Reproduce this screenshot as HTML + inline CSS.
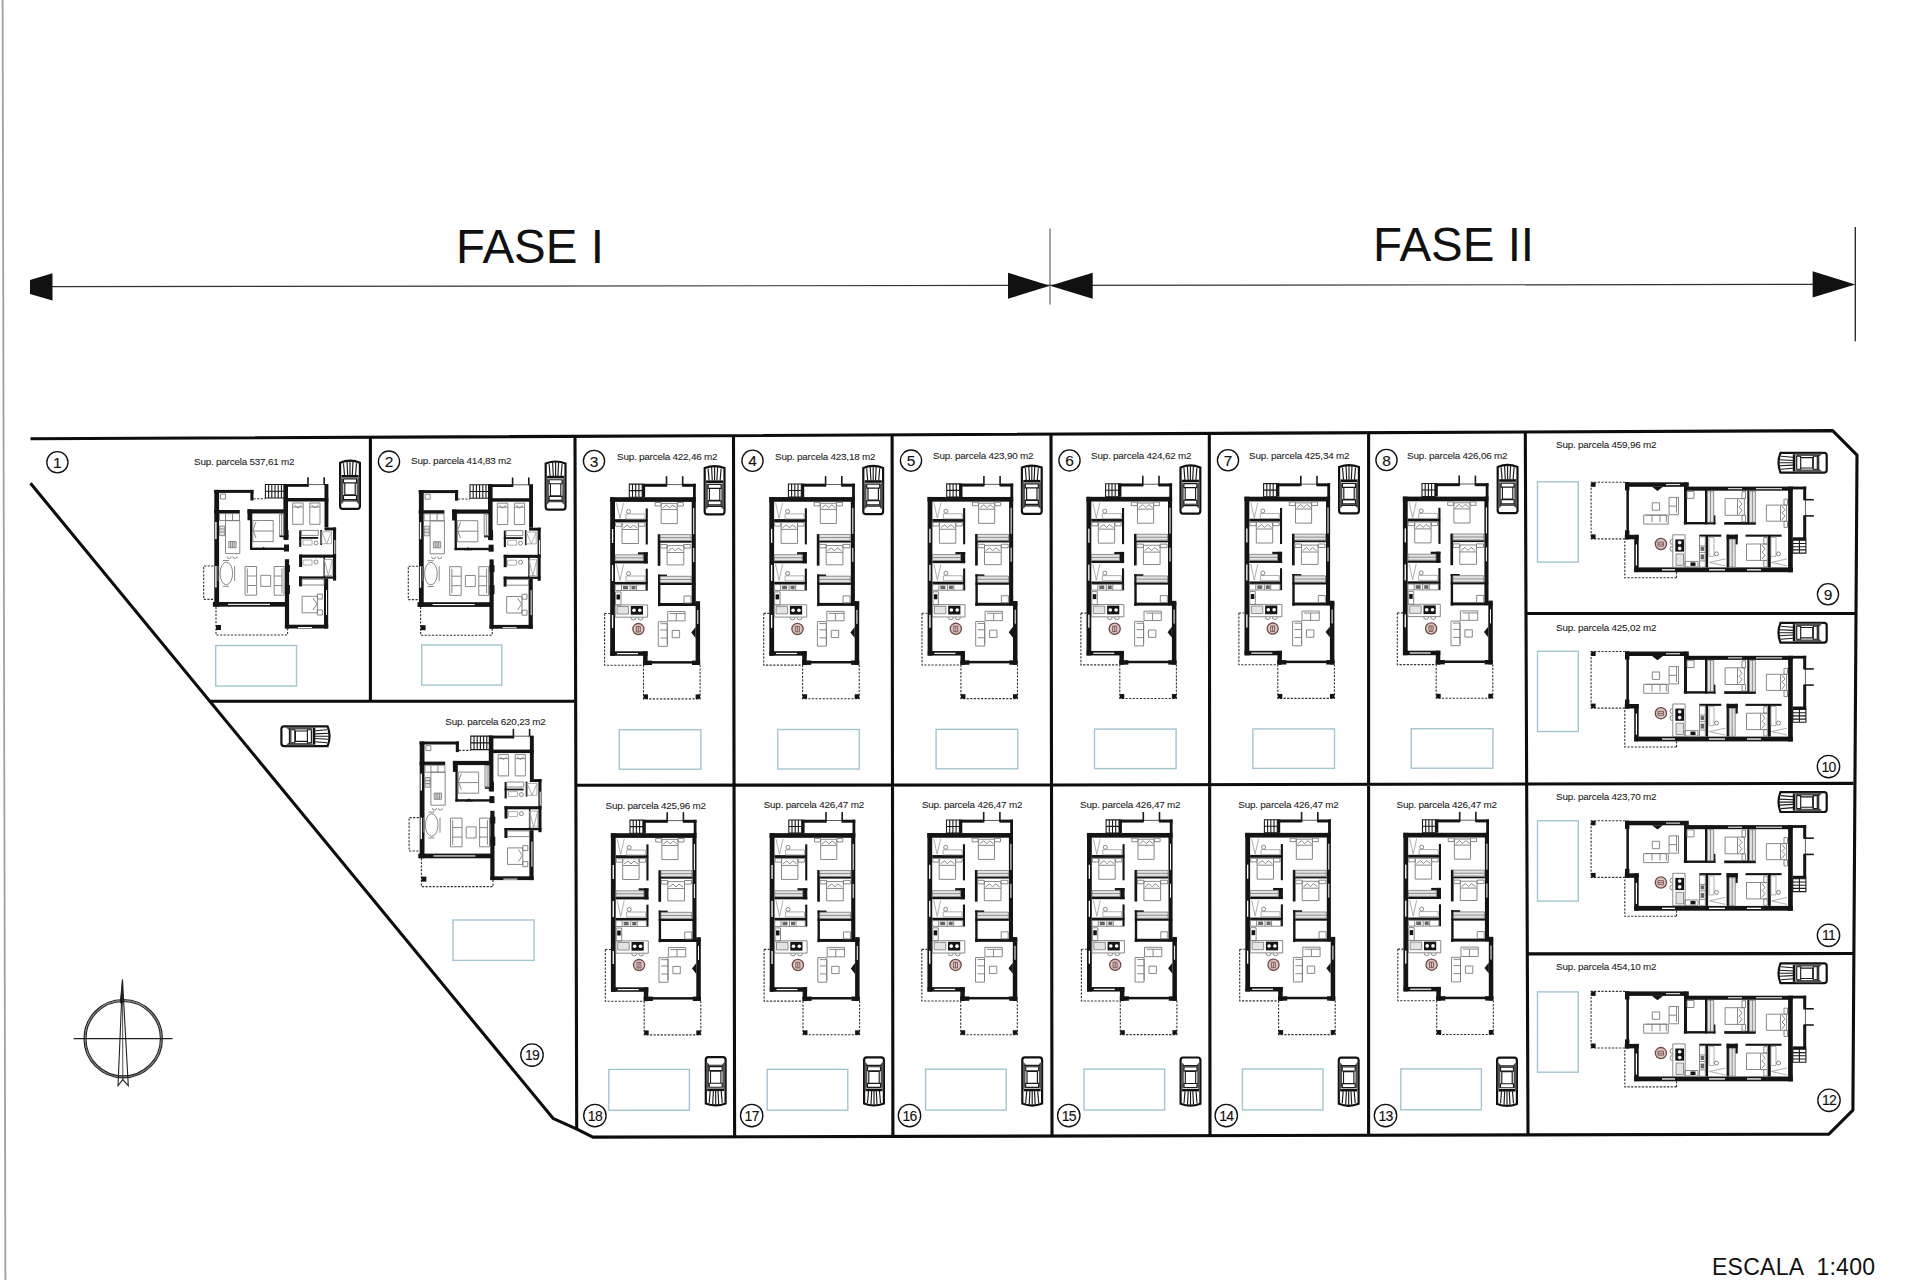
<!DOCTYPE html><html><head><meta charset="utf-8"><title>Site plan</title><style>
html,body{margin:0;padding:0;background:#fff;}body{width:1920px;height:1280px;overflow:hidden;}
svg{display:block;font-family:"Liberation Sans",sans-serif;}
.k{fill:#141414}.wh{fill:#fff}.ln{stroke:#111;stroke-width:1.2;fill:none}.thin{stroke:#333;stroke-width:0.8}
.ant{stroke:#1a1a1a;stroke-width:1.6}.st{fill:none;stroke:#1a1a1a;stroke-width:1.1}
.ds{fill:none;stroke:#333;stroke-width:1.1;stroke-dasharray:2.2 1.4}
.fu{fill:none;stroke:#7a7a7a;stroke-width:0.9}.fu2{fill:none;stroke:#9a9a9a;stroke-width:0.8}
.red{fill:#dcc4c2;stroke:#6e4a46;stroke-width:1.3}.red2{fill:none;stroke:#7a5450;stroke-width:0.9}.wd{fill:#e4e4e4;stroke:#666;stroke-width:0.7}.g{fill:#666}
.bd{fill:none;stroke:#0d0d0d;stroke-width:3.1;stroke-linejoin:round}
.pool{fill:none;stroke:#a3c5d0;stroke-width:1.4}
.car{fill:none;stroke:#111;stroke-width:2.2}.carl{fill:none;stroke:#1a1a1a;stroke-width:1.15}.carw{stroke:#111;stroke-width:2.2}
.num{fill:none;stroke:#111;stroke-width:1.35}.nt{font-size:15.5px;fill:#111;stroke:#111;stroke-width:0.12}.nt2{font-size:14px;fill:#111;stroke:#111;stroke-width:0.12;letter-spacing:-0.7px}
.sup{font-size:9.9px;fill:#1a1a1a;stroke:#1a1a1a;stroke-width:0.08}
</style></head><body>
<svg width="1920" height="1280" viewBox="0 0 1920 1280">
<defs>
<g id="hB"><rect class="k" x="610.1" y="497.2" width="85.7" height="4.7"/><rect class="k" x="610.2" y="497.2" width="4.8" height="158.6"/><rect class="k" x="642.2" y="483.8" width="2.9" height="13.4"/><rect class="k" x="642.2" y="483.8" width="24.3" height="3.0"/><line class="thin" x1="666.5" y1="484.6" x2="682.7" y2="484.6"/><rect class="k" x="682.7" y="483.8" width="13.1" height="3.0"/><rect class="k" x="693.0" y="483.8" width="2.8" height="14.0"/><line class="ant" x1="666.5" y1="476.2" x2="666.5" y2="486.5"/><line class="ant" x1="682.7" y1="476.2" x2="682.7" y2="486.5"/><path class="st" d="M629.3,484.1H642.2V497.2H629.3Z M632.5,484.1V497.2 M635.7,484.1V497.2 M638.9,484.1V497.2 M629.3,490.6H642.2"/><rect class="k" x="615.0" y="519.2" width="32.5" height="2.9"/><rect class="k" x="645.7" y="508.4" width="2.1" height="36.1"/><rect class="k" x="638.0" y="552.3" width="9.8" height="2.3"/><rect class="k" x="643.4" y="552.3" width="4.4" height="11.1"/><rect class="k" x="615.0" y="561.0" width="32.8" height="2.4"/><rect class="k" x="645.7" y="568.7" width="2.1" height="22.0"/><rect class="k" x="615.0" y="581.9" width="32.5" height="2.6"/><rect class="k" x="691.7" y="497.2" width="4.1" height="108.5"/><rect class="k" x="657.7" y="534.2" width="2.7" height="31.6"/><rect class="k" x="658.0" y="574.6" width="2.4" height="31.6"/><rect class="k" x="660.0" y="540.9" width="31.7" height="1.8"/><rect class="k" x="658.0" y="574.6" width="9.0" height="2.0"/><rect class="k" x="658.0" y="582.8" width="37.5" height="2.2"/><rect class="k" x="658.0" y="603.0" width="42.0" height="3.0"/><rect class="k" x="610.3" y="651.3" width="37.3" height="4.5"/><rect class="k" x="643.1" y="651.3" width="4.5" height="13.9"/><rect class="k" x="643.1" y="661.1" width="57.0" height="2.5"/><rect class="k" x="643.1" y="660.6" width="9.0" height="4.4"/><rect class="k" x="692.0" y="660.6" width="8.1" height="4.4"/><rect class="k" x="695.6" y="601.2" width="4.5" height="63.8"/><path class="k" d="M695.6,627L691.3,632.5L695.6,638Z"/><rect class="wh" x="611.9" y="529.0" width="1.3" height="14.0"/><rect class="wh" x="611.9" y="565.0" width="1.3" height="16.0"/><rect class="wh" x="611.9" y="615.0" width="1.3" height="13.0"/><rect class="wh" x="693.2" y="508.0" width="1.0" height="26.0"/><rect class="wh" x="693.2" y="548.0" width="1.0" height="14.0"/><rect class="wh" x="617.0" y="653.0" width="21.0" height="1.2"/><rect class="wh" x="697.3" y="610.0" width="1.0" height="14.0"/><path class="ds" d="M643.5,665V698.9H700.1V665 M604.6,613.5H610.3 M604.6,613.5V665.2H643.5"/><rect class="k" x="643.5" y="694.4" width="4.5" height="4.5"/><rect class="k" x="695.6" y="694.4" width="4.5" height="4.5"/><path class="fu" d="M661.2,503.4h16.1v20.2h-16.1z M655,502.5h6v3.5h-6z M677.3,502.5h6v3.5h-6z M662.5,508l4,-3l3,3l3,-3l4,3 M661.2,509.5h16.1"/><path class="fu" d="M622,522.7h16.4v20.8h-16.4z M615.5,522.7h6.5v3.5h-6.5z M638.4,522.7h6.5v3.5h-6.5z M623.3,528l4,-3l3,3l3,-3l4,3 M622,529.5h16.4"/><path class="fu" d="M667.1,545.6h16.7v19.3h-16.7z M660.6,544.5h6.5v3.5h-6.5z M683.8,544.5h7v3.5h-7z M668.3,551l4,-3l3,3l3,-3l4,3 M667.1,552.5h16.7"/><path class="fu2" d="M616.5,503L620,518.5L623.5,503 M616.5,564.5L620,580.5L623.5,564.5 M626,514h19v5h-19z M626,576h19v5h-19z"/><circle class="fu" cx="628.5" cy="511.5" r="2"/><circle class="fu" cx="628.5" cy="573.5" r="2"/><path class="wd" d="M660.2,534.6h31v6h-31z M660.2,576.3h31v6.3h-31z M615.2,554.8h28v6h-28z M660.2,537.6h31 M660.2,579.5h31 M615.2,557.8h28"/><path class="fu" d="M615.2,584.7h30.5v5.8h-30.5z M621.5,584.7v5.8 M630,584.7v5.8 M636.5,584.7v5.8"/><rect class="g" x="623.0" y="585.8" width="5.0" height="3.6"/><rect class="g" x="631.5" y="585.8" width="4.0" height="3.6"/><path class="fu" d="M615.5,592h5.5v13h-5.5z M684,596h7v7h-7z"/><rect class="k" x="616.5" y="594.5" width="3.5" height="5.0"/><path class="fu" d="M615.2,604.9h32.4v12.3h-32.4z"/><rect class="k" x="630.8" y="606.0" width="12.2" height="8.7"/><circle cx="634" cy="610.3" r="1.8" fill="#fff"/><circle cx="639.8" cy="610.3" r="1.8" fill="#fff"/><path class="wd" d="M617,606.5h11.5v7.5h-11.5z"/><path class="fu" d="M631,617.5a2.5,2.5 0 0 0 5,0 M638,617.5a2.5,2.5 0 0 0 5,0"/><circle class="red" cx="638.4" cy="629.1" r="5.6"/><path class="red2" d="M636.3,626.5h4v5.5h-4z M638.3,626.5v5.5"/><path class="fu" d="M658.3,621.7h9v24.6h-9z M660.3,623.7h7v20.6 M667.7,611.5h17.3v9.4h-17.3z M669.7,613.5h15.3 M676.3,613.5v7.4 M672.2,630.4h7.4v7.3h-7.4z M660.3,630h7 M660.3,638h7"/></g>
<g id="hA"><rect class="k" x="214.1" y="489.9" width="39.4" height="3.0"/><rect class="k" x="214.3" y="489.9" width="4.8" height="116.8"/><rect class="k" x="250.4" y="489.9" width="3.1" height="10.6"/><path class="ds" d="M253.5,498.8H265.4"/><path class="st" d="M265.4,484.5H284.5V498H265.4Z M268.6,484.5V498 M271.8,484.5V498 M275,484.5V498 M278.2,484.5V498 M281.4,484.5V498 M265.4,491.3H284.5"/><rect class="k" x="283.8" y="484.0" width="24.5" height="2.8"/><line class="ant" x1="308.0" y1="477.3" x2="308.0" y2="486.8"/><line class="ant" x1="324.2" y1="477.3" x2="324.2" y2="485.0"/><line class="thin" x1="308.0" y1="484.6" x2="324.5" y2="484.6"/><rect class="k" x="324.5" y="484.0" width="3.9" height="43.5"/><rect class="k" x="283.4" y="484.0" width="4.6" height="55.5"/><rect class="k" x="283.8" y="498.0" width="44.6" height="3.5"/><rect class="k" x="214.1" y="510.0" width="25.7" height="3.5"/><rect class="k" x="247.5" y="509.3" width="36.3" height="4.2"/><rect class="k" x="250.0" y="510.0" width="2.3" height="40.0"/><rect class="k" x="247.5" y="509.3" width="4.5" height="11.0"/><rect class="k" x="250.0" y="547.6" width="38.7" height="2.4"/><rect class="k" x="284.0" y="544.5" width="5.0" height="7.0"/><rect class="k" x="279.5" y="535.0" width="9.0" height="2.2"/><rect class="k" x="284.0" y="530.0" width="4.5" height="10.0"/><path class="k" d="M259.5,550h8l-4,-3z"/><rect class="k" x="324.5" y="527.5" width="11.6" height="2.9"/><rect class="k" x="333.0" y="527.5" width="3.1" height="53.1"/><rect class="k" x="299.2" y="530.4" width="2.1" height="16.5"/><rect class="k" x="299.2" y="537.0" width="19.0" height="1.8"/><rect class="k" x="320.3" y="530.0" width="1.7" height="15.0"/><rect class="k" x="299.1" y="554.6" width="37.0" height="3.1"/><rect class="k" x="299.1" y="554.6" width="3.0" height="12.4"/><rect class="k" x="323.5" y="557.0" width="1.5" height="21.0"/><rect class="k" x="299.1" y="576.4" width="37.0" height="2.3"/><rect class="k" x="299.0" y="576.4" width="3.0" height="10.0"/><rect class="k" x="324.0" y="578.7" width="4.2" height="49.8"/><rect class="k" x="284.9" y="624.7" width="43.3" height="3.8"/><rect class="k" x="284.9" y="559.2" width="4.2" height="69.3"/><rect class="k" x="284.9" y="565.0" width="5.0" height="7.0"/><rect class="k" x="284.9" y="585.0" width="5.0" height="9.0"/><rect class="k" x="212.9" y="602.0" width="75.1" height="4.7"/><rect class="wh" x="215.2" y="566.0" width="1.4" height="21.5"/><rect class="wh" x="215.2" y="522.0" width="1.4" height="17.0"/><rect class="wh" x="228.0" y="603.8" width="42.0" height="1.1"/><rect class="wh" x="326.0" y="590.0" width="1.0" height="25.0"/><rect class="wh" x="334.3" y="540.0" width="1.0" height="14.0"/><rect class="wh" x="298.0" y="627.0" width="14.0" height="1.0"/><path class="ds" d="M213.5,566H203.7V599.4H213.5 M216,606.7V635H287.6V628.5"/><rect class="k" x="216.0" y="625.0" width="5.0" height="5.0"/><ellipse class="fu" cx="226.3" cy="573.4" rx="6.3" ry="11.3"/><path class="fu" d="M218,566v15 M234.6,566v15 M223,560.5h6 M223,586.3h6"/><path class="fu" d="M245.1,566.5h11.5v28.7h-11.5z M247.3,568.5v24.7 M247.3,576h9.3 M247.3,585.5h9.3 M274.2,566.5h9.9v28.7h-9.9z M282,568.5v24.7 M274.2,576h7.8 M274.2,585.5h7.8 M260.8,575.3h9.9v11.1h-9.9z"/><path class="fu" d="M219.5,513.6h20v7h-20z M225.5,513.6v7 M232.5,513.6v7 M225.5,520.6h14.3v33h-14.3z M227,556.5a2,2 0 0 0 4,0 M233,556.5a2,2 0 0 0 4,0 M220.5,494h5v5h-5z"/><path class="wd" d="M219.6,526h5.2v9.6h-5.2z M219.6,529h5.2 M219.6,532h5.2"/><path class="wd" d="M228.8,541.5h7.3v6.2h-7.3z M230.6,541.5v6.2 M232.4,541.5v6.2 M234.2,541.5v6.2"/><path class="fu" d="M252.8,520.5h20.4v21.1h-20.4z M252.8,531h20.4 M256,522l-3,8l3,8 M279.6,514h4.2v21.6h-4.2z M281.7,514v21.6"/><path class="fu" d="M292.7,503h10.5v21.3h-10.5z M309.8,503h10.2v21.3h-10.2z M292.7,507h10.5 M309.8,507h10.2 M294.5,505l3.5,3l3.5,-3 M311.5,505l3.5,3l3.5,-3"/><path class="fu" d="M302.1,596.3h15.3v16.5h-15.3z M313,598l4,6l-4,6 M317.4,594h5v5h-5z M317.4,610h5v5h-5z M302,579.3h22v5.7h-22z M301.3,530.4h17v5h-17z"/><path class="fu2" d="M321.7,531.8h9.9v11.9h-9.9z M321.7,531.8l5,11.9l5,-11.9 M324.3,559.5h8v16h-8z M324.3,559.5l4,16l4,-16 M303,540h9v5h-9z M303,560h9v5h-9z"/><circle class="fu" cx="316" cy="543" r="2"/><circle class="fu" cx="316" cy="562" r="2"/></g>
<g id="car"><path class="car" d="M1.1,4Q11,0 20.9,4V47.6Q20.9,50.2 18.4,50.2H3.6Q1.1,50.2 1.1,47.6Z"/><path fill="#555" d="M1.6,18L4.3,20.5V43.5L1.6,46Z M20.4,18L17.7,20.5V43.5L20.4,46Z"/><path class="carl" d="M4.5,4.5L5.5,16.5 M8,3L8.7,16.5 M11,2.6V16.5 M14,3L13.3,16.5 M17.5,4.5L16.5,16.5"/><rect x="2.5" y="16.3" width="17" height="2.6" fill="#111"/><path class="carl" d="M4.5,20.2h13v4h-13z M5.8,24.2h10.4v12h-10.4z M4.5,36.8h13v4h-13z M3.2,42.2h15.6"/></g>
</defs>
<line x1="2.6" y1="0" x2="5.4" y2="1280" stroke="#a0a0a0" stroke-width="1.8"/>
<path d="M52,286.7L1813,284.4" stroke="#333" stroke-width="1.2" fill="none"/>
<path d="M30,280L30,294L52.5,300.4L52.5,273.3Z" fill="#111"/>
<path d="M1008,272.7V298.8L1050,285.7Z M1092.7,272.7V298.8L1050,285.7Z" fill="#111"/>
<path d="M1812.6,271.3V297.5L1855.3,284.4Z" fill="#111"/>
<line x1="1050" y1="228.4" x2="1050" y2="304.4" stroke="#555" stroke-width="1.1"/>
<line x1="1855.3" y1="227" x2="1855.3" y2="341.3" stroke="#222" stroke-width="1.3"/>
<text x="456" y="263.4" font-size="47.5" fill="#111">FASE I</text>
<text x="1373" y="261" font-size="47.5" fill="#111">FASE II</text>
<text x="1712" y="1274.8" font-size="23" fill="#111" xml:space="preserve" textLength="163" lengthAdjust="spacing">ESCALA  1:400</text>
<path class="bd" d="M30.5,438.75 L1832.6,430.6 L1857,455.2 L1852.9,1110.1 L1828.9,1134.2 L592.9,1137.1 L576.9,1129.1 L553,1118.3 L30.5,483.3"/>
<path class="bd" d="M370.4,437.2L370.4,701.3M575.0,436.3L576.7,1129.1M733.5,435.6L734.6,1136.8M892.1,434.9L892.9,1136.6M1051.0,434.1L1052.0,1136.4M1209.3,433.4L1210.0,1136.1M1368.6,432.7L1368.6,1135.8M1525.3,432.0L1528.0,1135.3M209.9,701.3L575.6,701.3 M576,785.2L1060,785 L1525,784 L1853.5,783.4 M1525.5,613.5L1855.5,613.5 M1527.5,953.9L1853.6,953.5"/>
<use href="#hA" transform="translate(0,0)"/>
<use href="#hA" transform="translate(204.6,0.2)"/>
<use href="#hA" transform="translate(205.4,251.6)"/>
<use href="#hB" transform="translate(0,-0.00)"/>
<use href="#hB" transform="translate(159.1,-0.12)"/>
<use href="#hB" transform="translate(317.4,-0.24)"/>
<use href="#hB" transform="translate(476.3,-0.36)"/>
<use href="#hB" transform="translate(634.3,-0.48)"/>
<use href="#hB" transform="translate(792.7,-0.60)"/>
<use href="#hB" transform="translate(0.7,336.00)"/>
<use href="#hB" transform="translate(159.5,335.92)"/>
<use href="#hB" transform="translate(317.2,335.84)"/>
<use href="#hB" transform="translate(476.8,335.76)"/>
<use href="#hB" transform="translate(635.1,335.68)"/>
<use href="#hB" transform="translate(793.2,335.60)"/>
<use href="#hB" transform="matrix(0,-1,-1,0,2290,1182.4)"/>
<use href="#hB" transform="matrix(0,-1,-1,0,2290,1351.6)"/>
<use href="#hB" transform="matrix(0,-1,-1,0,2290,1520.9)"/>
<use href="#hB" transform="matrix(0,-1,-1,0,2290,1691.5)"/>
<rect class="pool" x="215.7" y="645.5" width="80.8" height="40.5"/>
<rect class="pool" x="421.7" y="645" width="80.1" height="40.1"/>
<rect class="pool" x="453" y="920" width="81.0" height="40.4"/>
<rect class="pool" x="619.3" y="729.7" width="81.6" height="39.5"/>
<rect class="pool" x="608.8" y="1069.4" width="80.6" height="40.9"/>
<rect class="pool" x="777.6999999999999" y="729.5" width="81.6" height="39.5"/>
<rect class="pool" x="767.1999999999999" y="1069.3000000000002" width="80.6" height="40.9"/>
<rect class="pool" x="936.0999999999999" y="729.3000000000001" width="81.6" height="39.5"/>
<rect class="pool" x="925.5999999999999" y="1069.2" width="80.6" height="40.9"/>
<rect class="pool" x="1094.5" y="729.1" width="81.6" height="39.5"/>
<rect class="pool" x="1084.0" y="1069.1000000000001" width="80.6" height="40.9"/>
<rect class="pool" x="1252.9" y="728.9000000000001" width="81.6" height="39.5"/>
<rect class="pool" x="1242.4" y="1069.0" width="80.6" height="40.9"/>
<rect class="pool" x="1411.3" y="728.7" width="81.6" height="39.5"/>
<rect class="pool" x="1400.8" y="1068.9" width="80.6" height="40.9"/>
<rect class="pool" x="1537.5" y="481.8" width="40.8" height="80.3"/>
<rect class="pool" x="1537.5" y="651.2" width="40.8" height="80.3"/>
<rect class="pool" x="1537.5" y="820.8" width="40.8" height="80.3"/>
<rect class="pool" x="1537.5" y="991.9" width="40.8" height="80.3"/>
<use href="#car" transform="translate(339.0,458.7)"/>
<use href="#car" transform="translate(544.6,459.5)"/>
<use href="#car" transform="translate(703.6,464.1)"/>
<use href="#car" transform="translate(862.2,463.9)"/>
<use href="#car" transform="translate(1020.8,463.6)"/>
<use href="#car" transform="translate(1179.4,463.4)"/>
<use href="#car" transform="translate(1338.0,463.1)"/>
<use href="#car" transform="translate(1496.6,462.9)"/>
<use href="#car" transform="translate(726.7,1107.4) rotate(180)"/>
<use href="#car" transform="translate(885.0,1107.5) rotate(180)"/>
<use href="#car" transform="translate(1043.2,1107.6) rotate(180)"/>
<use href="#car" transform="translate(1201.5,1107.7) rotate(180)"/>
<use href="#car" transform="translate(1359.7,1107.8) rotate(180)"/>
<use href="#car" transform="translate(1518.0,1107.9) rotate(180)"/>
<use href="#car" transform="translate(331.6,725.2) rotate(90)"/>
<use href="#car" transform="translate(1776.5,473.8) rotate(-90)"/>
<use href="#car" transform="translate(1776.5,643.7) rotate(-90)"/>
<use href="#car" transform="translate(1776.5,813.1) rotate(-90)"/>
<use href="#car" transform="translate(1776.5,984.3) rotate(-90)"/>
<circle class="num" cx="57.4" cy="462.2" r="10.6"/>
<text class="nt" x="57.4" y="467.8" text-anchor="middle">1</text>
<circle class="num" cx="389" cy="461.6" r="10.6"/>
<text class="nt" x="389" y="467.2" text-anchor="middle">2</text>
<circle class="num" cx="594.0" cy="461.0" r="10.6"/>
<text class="nt" x="594.0" y="466.6" text-anchor="middle">3</text>
<circle class="num" cx="752.5" cy="460.8" r="10.6"/>
<text class="nt" x="752.5" y="466.4" text-anchor="middle">4</text>
<circle class="num" cx="911.0" cy="460.6" r="10.6"/>
<text class="nt" x="911.0" y="466.2" text-anchor="middle">5</text>
<circle class="num" cx="1069.5" cy="460.4" r="10.6"/>
<text class="nt" x="1069.5" y="466.0" text-anchor="middle">6</text>
<circle class="num" cx="1228.0" cy="460.2" r="10.6"/>
<text class="nt" x="1228.0" y="465.8" text-anchor="middle">7</text>
<circle class="num" cx="1386.5" cy="460.0" r="10.6"/>
<text class="nt" x="1386.5" y="465.6" text-anchor="middle">8</text>
<circle class="num" cx="594.9" cy="1115.5" r="11.2"/>
<text class="nt2" x="594.9" y="1120.6" text-anchor="middle">18</text>
<circle class="num" cx="751.7" cy="1115.5" r="11.2"/>
<text class="nt2" x="751.7" y="1120.6" text-anchor="middle">17</text>
<circle class="num" cx="909.5" cy="1115.5" r="11.2"/>
<text class="nt2" x="909.5" y="1120.6" text-anchor="middle">16</text>
<circle class="num" cx="1068.75" cy="1115.5" r="11.2"/>
<text class="nt2" x="1068.75" y="1120.6" text-anchor="middle">15</text>
<circle class="num" cx="1226.25" cy="1115.5" r="11.2"/>
<text class="nt2" x="1226.25" y="1120.6" text-anchor="middle">14</text>
<circle class="num" cx="1385.5" cy="1115.5" r="11.2"/>
<text class="nt2" x="1385.5" y="1120.6" text-anchor="middle">13</text>
<circle class="num" cx="1828" cy="594.2" r="10.6"/>
<text class="nt" x="1828" y="599.8" text-anchor="middle">9</text>
<circle class="num" cx="1828.5" cy="766.5" r="11.2"/>
<text class="nt2" x="1828.5" y="771.6" text-anchor="middle">10</text>
<circle class="num" cx="1828.5" cy="935.3" r="11.2"/>
<text class="nt2" x="1828.5" y="940.4" text-anchor="middle">11</text>
<circle class="num" cx="1829" cy="1100.3" r="11.2"/>
<text class="nt2" x="1829" y="1105.4" text-anchor="middle">12</text>
<circle class="num" cx="532" cy="1055" r="11.2"/>
<text class="nt2" x="532" y="1060.1" text-anchor="middle">19</text>
<text class="sup" x="194.0" y="464.6" textLength="100.5" lengthAdjust="spacing">Sup. parcela 537,61 m2</text>
<text class="sup" x="411.1" y="464.2" textLength="100.5" lengthAdjust="spacing">Sup. parcela 414,83 m2</text>
<text class="sup" x="445.3" y="724.6" textLength="100.5" lengthAdjust="spacing">Sup. parcela 620,23 m2</text>
<text class="sup" x="617.0" y="459.8" textLength="100.5" lengthAdjust="spacing">Sup. parcela 422,46 m2</text>
<text class="sup" x="775.0" y="459.6" textLength="100.5" lengthAdjust="spacing">Sup. parcela 423,18 m2</text>
<text class="sup" x="933.0" y="459.4" textLength="100.5" lengthAdjust="spacing">Sup. parcela 423,90 m2</text>
<text class="sup" x="1091.0" y="459.2" textLength="100.5" lengthAdjust="spacing">Sup. parcela 424,62 m2</text>
<text class="sup" x="1249.0" y="459.0" textLength="100.5" lengthAdjust="spacing">Sup. parcela 425,34 m2</text>
<text class="sup" x="1407.0" y="458.8" textLength="100.5" lengthAdjust="spacing">Sup. parcela 426,06 m2</text>
<text class="sup" x="605.5" y="808.6" textLength="100.5" lengthAdjust="spacing">Sup. parcela 425,96 m2</text>
<text class="sup" x="763.7" y="808.4" textLength="100.5" lengthAdjust="spacing">Sup. parcela 426,47 m2</text>
<text class="sup" x="921.9" y="808.2" textLength="100.5" lengthAdjust="spacing">Sup. parcela 426,47 m2</text>
<text class="sup" x="1080.1" y="808.0" textLength="100.5" lengthAdjust="spacing">Sup. parcela 426,47 m2</text>
<text class="sup" x="1238.3" y="807.8" textLength="100.5" lengthAdjust="spacing">Sup. parcela 426,47 m2</text>
<text class="sup" x="1396.5" y="807.6" textLength="100.5" lengthAdjust="spacing">Sup. parcela 426,47 m2</text>
<text class="sup" x="1556.0" y="447.5" textLength="100.5" lengthAdjust="spacing">Sup. parcela 459,96 m2</text>
<text class="sup" x="1556.0" y="631.0" textLength="100.5" lengthAdjust="spacing">Sup. parcela 425,02 m2</text>
<text class="sup" x="1556.0" y="799.8" textLength="100.5" lengthAdjust="spacing">Sup. parcela 423,70 m2</text>
<text class="sup" x="1556.0" y="970.4" textLength="100.5" lengthAdjust="spacing">Sup. parcela 454,10 m2</text>
<g stroke="#222" fill="none"><circle cx="123.2" cy="1038.7" r="39.2" stroke-width="1.2"/><circle cx="123.2" cy="1038.7" r="37.2" stroke-width="1.1"/><line x1="73.7" y1="1038.7" x2="172.6" y2="1038.7" stroke-width="1.2"/><path d="M122.5,979.7L118,1085.7L122.8,1079.7L128.3,1085.7Z" stroke-width="1.1" fill="none"/><path d="M122.5,979.7L120.2,1003L122.6,1003Z" fill="#111"/><line x1="122.6" y1="995" x2="122.8" y2="1079.7" stroke-width="0.8"/><circle cx="123.2" cy="1038.7" r="38.2" stroke-width="0.6"/></g>
</svg></body></html>
